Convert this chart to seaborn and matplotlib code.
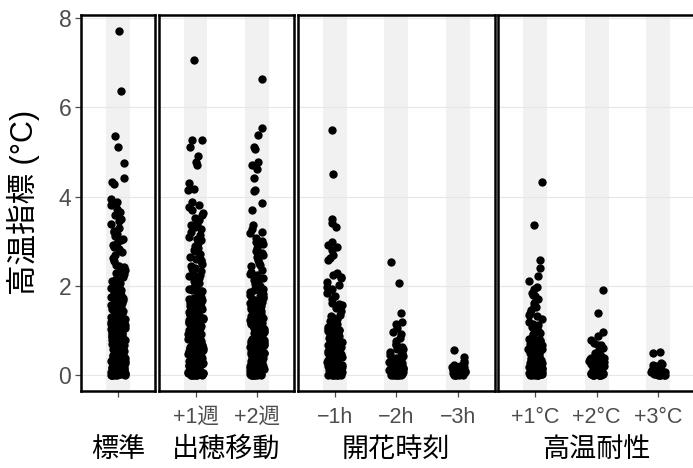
import numpy as np
import pandas as pd
import matplotlib
matplotlib.use("Agg")
import matplotlib.pyplot as plt
import seaborn as sns

# panel names and the levels shown under each panel
panels = ["標準", "出穂移動", "開花時刻", "高温耐性"]
panel_levels = [["標準"], ["+1週", "+2週"], ["−1h", "−2h", "−3h"], ["+1°C", "+2°C", "+3°C"]]
panel_ticklabels = [[""], ["+1週", "+2週"], ["−1h", "−2h", "−3h"], ["+1°C", "+2°C", "+3°C"]]

# values (高温指標, °C)
std_vals = [
    7.72, 6.37, 5.35, 5.12, 4.76, 4.41, 4.33, 4.28, 3.96, 3.89, 3.81, 3.72, 3.66, 3.58,
    3.51, 3.45, 3.38, 3.31, 3.24, 3.17, 3.11, 3.03, 2.97, 2.91, 2.84, 2.76, 2.69,
    2.55, 2.48, 2.42, 2.37, 2.31, 2.26, 2.21, 2.16, 2.12, 2.07, 2.03,
    1.97, 1.93, 1.90, 1.86, 1.84, 1.79, 1.77, 1.73, 1.70, 1.66, 1.64, 1.61, 1.57, 1.55,
    1.52, 1.49, 1.46, 1.43, 1.41, 1.38, 1.36, 1.33, 1.31, 1.28, 1.26, 1.23, 1.21, 1.19,
    1.16, 1.14, 1.12, 1.09, 1.07, 1.05, 1.02, 1.00, 0.98, 0.96, 0.93, 0.91, 0.89, 0.87,
    0.85, 0.82, 0.80, 0.78, 0.76, 0.74, 0.72, 0.70, 0.68, 0.66, 0.64, 0.62, 0.60, 0.58,
    0.56, 0.54, 0.52, 0.50, 0.48, 0.46, 0.44, 0.42, 0.40, 0.38, 0.36, 0.34, 0.32, 0.30,
    0.28, 0.26, 0.24, 0.22, 0.20, 0.18, 0.16, 0.14, 0.12, 0.10, 0.09, 0.08, 0.07, 0.06,
    0.05, 0.04, 0.03, 0.02, 0.01, 0.00, 0.00, 0.00, 0.01, 0.02, 0.03, 0.05, 0.07, 0.11,
    0.15, 0.19, 0.25, 0.31, 0.37, 0.43, 0.51, 0.59, 0.67, 0.77, 0.88, 0.99, 1.11, 1.24,
    1.37, 1.52, 1.68, 0.04, 0.13, 0.21, 0.33, 0.47, 0.63, 0.81,
    0.02, 0.06, 0.10, 0.15, 0.20, 0.26, 0.30, 0.35, 0.41, 0.45, 0.53, 0.57, 0.61, 0.69,
    0.73, 0.79, 0.84, 0.90, 0.95, 1.01, 1.06, 1.13, 1.18, 1.27, 1.34, 1.45, 1.58, 1.75,
    1.91, 0.00, 0.08, 0.17, 0.28, 0.39, 0.55, 0.71, 0.86, 1.04, 1.22, 1.44,
    0.01, 0.04, 0.12, 0.18, 0.23, 0.33, 0.38, 0.47, 0.51, 0.60, 0.65, 0.75, 0.83, 0.92,
    0.97, 1.03, 1.10, 1.15, 1.20, 1.30, 1.39, 1.48, 1.54, 1.63, 1.72, 1.81, 1.88, 1.95,
    2.10, 2.29, 2.45, 2.62, 2.88, 3.06, 3.20,
]
w1_vals = [
    7.07, 5.28, 5.26, 5.11, 4.92, 4.78, 4.72, 4.30, 4.18, 4.14, 3.89, 3.82, 3.78, 3.71,
    3.64, 3.58, 3.52, 3.47, 3.40, 3.33, 3.27, 3.21, 3.14, 3.09, 3.02, 2.96, 2.90, 2.85,
    2.78, 2.72, 2.66, 2.61, 2.55, 2.49, 2.44, 2.38, 2.33, 2.27, 2.22, 2.17, 2.11, 2.06, 2.02,
    1.98, 1.95, 1.91, 1.88, 1.83, 1.80, 1.76, 1.72, 1.69, 1.65, 1.62, 1.58, 1.56, 1.53,
    1.50, 1.47, 1.44, 1.42, 1.39, 1.35, 1.32, 1.30, 1.27, 1.24, 1.22, 1.20, 1.17, 1.15,
    1.13, 1.10, 1.08, 1.06, 1.03, 1.01, 0.99, 0.97, 0.94, 0.92, 0.90, 0.88, 0.86, 0.83,
    0.81, 0.79, 0.77, 0.75, 0.73, 0.71, 0.69, 0.67, 0.65, 0.63, 0.61, 0.59, 0.57, 0.55,
    0.53, 0.51, 0.49, 0.47, 0.45, 0.43, 0.41, 0.39, 0.37, 0.35, 0.33, 0.31, 0.29, 0.27,
    0.25, 0.23, 0.21, 0.19, 0.17, 0.15, 0.13, 0.11, 0.10, 0.08, 0.07, 0.05, 0.04, 0.03,
    0.02, 0.01, 0.00, 0.00, 0.00, 0.01, 0.02, 0.04, 0.06, 0.09, 0.14, 0.18, 0.24, 0.29,
    0.36, 0.42, 0.48, 0.56, 0.64, 0.72, 0.82, 0.93, 1.04, 1.16, 1.29, 1.43, 1.57, 1.74,
    1.89, 0.03, 0.12, 0.22, 0.34, 0.46, 0.58, 0.74,
    0.01, 0.05, 0.09, 0.16, 0.20, 0.27, 0.32, 0.38, 0.44, 0.50, 0.54, 0.62, 0.68, 0.76,
    0.80, 0.87, 0.95, 1.00, 1.07, 1.12, 1.19, 1.26, 1.34, 1.41, 1.49, 1.61, 1.70, 1.85,
    1.96, 0.00, 0.07, 0.15, 0.26, 0.40, 0.52, 0.66, 0.84, 1.02, 1.25, 1.46,
    0.02, 0.06, 0.11, 0.17, 0.22, 0.30, 0.35, 0.42, 0.48, 0.58, 0.63, 0.70, 0.78, 0.85,
    0.91, 0.98, 1.05, 1.11, 1.18, 1.23, 1.31, 1.38, 1.45, 1.52, 1.60, 1.67, 1.78, 1.93,
    2.08, 2.25, 2.41, 2.58, 2.81, 3.05, 3.36,
]
w2_vals = [
    6.64, 5.53, 5.38, 5.12, 5.06, 4.78, 4.70, 4.62, 4.41, 4.15, 4.12, 3.85, 3.70, 3.36,
    3.27, 3.18, 3.08, 3.01, 2.94, 2.86, 2.79, 2.73, 2.66, 2.58, 2.51, 2.45, 2.37, 2.31,
    2.24, 2.18, 2.11, 2.05, 1.99,
    1.94, 1.90, 1.87, 1.83, 1.80, 1.77, 1.73, 1.70, 1.67, 1.63, 1.60, 1.57, 1.54, 1.51,
    1.48, 1.45, 1.43, 1.40, 1.37, 1.34, 1.31, 1.29, 1.26, 1.23, 1.21, 1.18, 1.15, 1.13,
    1.11, 1.08, 1.06, 1.03, 1.01, 0.99, 0.96, 0.94, 0.92, 0.89, 0.87, 0.85, 0.83, 0.81,
    0.79, 0.76, 0.74, 0.72, 0.70, 0.68, 0.66, 0.64, 0.62, 0.60, 0.58, 0.56, 0.54, 0.52,
    0.50, 0.48, 0.46, 0.44, 0.42, 0.40, 0.38, 0.36, 0.34, 0.32, 0.30, 0.28, 0.26, 0.24,
    0.22, 0.20, 0.18, 0.16, 0.14, 0.12, 0.10, 0.09, 0.07, 0.06, 0.05, 0.04, 0.03, 0.02,
    0.01, 0.00, 0.00, 0.00, 0.01, 0.03, 0.05, 0.08, 0.12, 0.17, 0.23, 0.29, 0.35, 0.41,
    0.49, 0.57, 0.65, 0.75, 0.86, 0.97, 1.09, 1.22, 1.36, 1.50, 1.65, 0.02, 0.11, 0.21,
    0.33, 0.45, 0.61, 0.78,
    0.00, 0.04, 0.09, 0.14, 0.19, 0.25, 0.31, 0.37, 0.43, 0.47, 0.53, 0.59, 0.67, 0.71,
    0.77, 0.84, 0.91, 0.98, 1.04, 1.10, 1.17, 1.25, 1.32, 1.42, 1.55, 1.69, 1.84, 0.02,
    0.06, 0.13, 0.24, 0.36, 0.51, 0.69, 0.88, 1.07, 1.28,
    0.01, 0.03, 0.08, 0.15, 0.21, 0.27, 0.34, 0.39, 0.45, 0.55, 0.63, 0.73, 0.80, 0.90,
    0.95, 1.02, 1.14, 1.19, 1.27, 1.35, 1.44, 1.53, 1.62, 1.75, 1.92, 2.14, 2.28, 2.48,
    2.70, 2.98, 3.22,
]
h1_vals = [
    5.50, 4.52, 3.50, 3.42, 3.33, 2.99, 2.91, 2.87, 2.80, 2.69, 2.62, 2.58, 2.30, 2.25,
    2.18, 2.10, 2.03, 1.97, 1.90, 1.84, 1.77, 1.70, 1.63, 1.57, 1.50, 1.43, 1.36, 1.30,
    1.26, 1.22, 1.18, 1.15, 1.11, 1.08, 1.04, 1.01, 0.98, 0.95, 0.92, 0.89, 0.86, 0.83,
    0.80, 0.77, 0.74, 0.72, 0.69, 0.66, 0.63, 0.61, 0.58, 0.55, 0.53, 0.50, 0.48, 0.45,
    0.43, 0.40, 0.38, 0.35, 0.33, 0.31, 0.28, 0.26, 0.24, 0.22, 0.20, 0.18, 0.16, 0.14,
    0.12, 0.10, 0.08, 0.07, 0.05, 0.04, 0.03, 0.02, 0.01, 0.00, 0.00, 0.00, 0.01, 0.02,
    0.04, 0.06, 0.09, 0.13, 0.17, 0.21, 0.27, 0.34, 0.41, 0.49, 0.57, 0.67, 0.78, 0.90,
    1.02, 0.03, 0.11, 0.19, 0.30, 0.44, 0.60,
    0.00, 0.05, 0.10, 0.15, 0.23, 0.29, 0.36, 0.42, 0.51, 0.56, 0.64, 0.71, 0.79, 0.85,
    0.94, 1.00, 1.09, 1.20, 0.02, 0.08, 0.18, 0.32, 0.47, 0.62, 0.75,
    0.01, 0.06, 0.14, 0.25, 0.37, 0.52, 0.68, 0.88, 1.06, 1.33, 1.60, 1.93, 2.21,
]
h2_vals = [
    2.54, 2.06, 1.39, 1.20, 1.14, 1.05, 0.98, 0.92, 0.83, 0.77, 0.71, 0.64, 0.58, 0.52,
    0.46, 0.41, 0.38, 0.35, 0.32, 0.29, 0.27, 0.24, 0.22, 0.20, 0.18, 0.16, 0.14, 0.12,
    0.10, 0.08, 0.07, 0.05, 0.04, 0.03, 0.02, 0.01, 0.00, 0.00, 0.00, 0.01, 0.03, 0.05,
    0.09, 0.13, 0.19, 0.25, 0.31, 0.44, 0.60,
    0.00, 0.02, 0.06, 0.11, 0.15, 0.21, 0.28, 0.36, 0.49, 0.68, 0.01, 0.09, 0.17, 0.26,
]
h3_vals = [
    0.56, 0.40, 0.33, 0.27, 0.21, 0.18, 0.14, 0.11, 0.09, 0.07, 0.05, 0.04, 0.03, 0.02,
    0.01, 0.00, 0.00, 0.00, 0.02, 0.06, 0.12, 0.16, 0.24, 0.01, 0.08, 0.19,
]
c1_vals = [
    4.34, 3.37, 2.58, 2.40, 2.22, 2.12, 1.98, 1.93, 1.85, 1.78, 1.70, 1.63, 1.55, 1.47,
    1.40, 1.33, 1.26, 1.19, 1.12, 1.05, 0.98, 0.92, 0.86,
    0.83, 0.80, 0.77, 0.74, 0.71, 0.68, 0.65, 0.62, 0.60, 0.57, 0.54, 0.52, 0.49, 0.47,
    0.44, 0.42, 0.39, 0.37, 0.35, 0.32, 0.30, 0.28, 0.26, 0.24, 0.22, 0.20, 0.18, 0.16,
    0.14, 0.12, 0.10, 0.09, 0.07, 0.06, 0.05, 0.04, 0.03, 0.02, 0.01, 0.00, 0.00, 0.00,
    0.01, 0.02, 0.04, 0.07, 0.11, 0.15, 0.21, 0.27, 0.34, 0.41, 0.50, 0.59, 0.70,
    0.03, 0.13, 0.25, 0.38,
    0.00, 0.05, 0.09, 0.17, 0.23, 0.31, 0.36, 0.45, 0.55, 0.63, 0.72, 0.81, 1.09, 1.36,
    0.02, 0.08, 0.14, 0.20, 0.29, 0.40, 0.48, 0.58, 0.67, 0.78, 0.94, 1.16, 1.52, 1.81,
]
c2_vals = [
    1.91, 1.39, 0.97, 0.88, 0.80, 0.73, 0.67, 0.61, 0.55, 0.50, 0.46, 0.42, 0.39, 0.35,
    0.32, 0.29, 0.26, 0.23, 0.21, 0.18, 0.16, 0.14, 0.12, 0.10, 0.08, 0.06, 0.05, 0.04,
    0.03, 0.02, 0.01, 0.00, 0.00, 0.00, 0.01, 0.03, 0.06, 0.10, 0.15, 0.20, 0.27, 0.36,
    0.02, 0.09, 0.00, 0.04, 0.07, 0.12, 0.17, 0.24, 0.31, 0.44, 0.58,
    0.01, 0.05, 0.11, 0.19, 0.28, 0.38, 0.52, 0.69,
]
c3_vals = [
    0.52, 0.51, 0.28, 0.25, 0.20, 0.16, 0.13, 0.10, 0.08, 0.06, 0.04, 0.03, 0.02, 0.01,
    0.00, 0.00, 0.00, 0.01, 0.05, 0.09, 0.15, 0.22, 0.02, 0.07, 0.12,
]

values_by_level = {
    "標準": std_vals, "+1週": w1_vals, "+2週": w2_vals,
    "−1h": h1_vals, "−2h": h2_vals, "−3h": h3_vals,
    "+1°C": c1_vals, "+2°C": c2_vals, "+3°C": c3_vals,
}

rows = []
for panel, levels in zip(panels, panel_levels):
    for lev in levels:
        for v in values_by_level[lev]:
            rows.append({"panel": panel, "level": lev, "value": v})
df = pd.DataFrame(rows)

sns.set_theme(style="white")
plt.rcParams["font.family"] = ["Liberation Sans", "Noto Sans CJK JP", "DejaVu Sans"]
np.random.seed(3)

W, H = 693, 468
fig = plt.figure(figsize=(W / 100, H / 100), dpi=100)

# layout in pixels: one unit of category axis ~61.5 px, panels separated by a small gap
x0, unit, gap = 81.0, 61.5, 3.8
top_px, bottom_px = 15.0, 390.5
grey = "#4d4d4d"

for i, (panel, levels, ticklabels) in enumerate(zip(panels, panel_levels, panel_ticklabels)):
    n = len(levels)
    w = unit * (n + 0.2)
    ax = fig.add_axes([x0 / W, (H - bottom_px) / H, w / W, (bottom_px - top_px) / H])
    x0 += w + gap

    for j in range(n):
        ax.axvspan(j - 0.195, j + 0.195, color="#f1f1f1", lw=0, zorder=0)

    sub = df[df["panel"] == panel]
    sns.stripplot(data=sub, x="level", y="value", order=levels, color="black",
                  size=6.0, jitter=0.12, linewidth=0, ax=ax, zorder=3)

    ax.set_xlim(-0.6, n - 0.4)
    ax.set_ylim(-0.34, 8.07)
    ax.set_yticks([0, 2, 4, 6, 8])
    ax.set_axisbelow(True)
    ax.yaxis.grid(True, color="#e6e6e6", linewidth=0.8)
    ax.xaxis.grid(False)
    ax.set_facecolor("white")
    for s in ax.spines.values():
        s.set_color("black")
        s.set_linewidth(1.8)
        s.set_visible(True)

    ax.set_xticks(range(n))
    ax.set_xticklabels(ticklabels)
    ax.tick_params(axis="x", bottom=True, length=4, width=0.9, color=grey,
                   labelsize=15.5, labelcolor=grey, pad=8)
    ax.set_xlabel(panel, fontsize=19.5, color="black")
    ax.xaxis.label.set_va("center")
    ax.xaxis.set_label_coords(0.5, (bottom_px - 450) / (bottom_px - top_px))

    if i == 0:
        ax.tick_params(axis="y", left=True, length=4, width=0.9, color=grey,
                       labelsize=16.5, labelcolor=grey, pad=3)
        ax.set_ylabel("高温指標 (°C)", fontsize=22, color="black")
        ax.yaxis.label.set_va("center")
        ax.yaxis.set_label_coords((23 - 81) / (unit * 1.2), 0.5)
    else:
        ax.tick_params(axis="y", left=False, labelleft=False)
        ax.set_ylabel("")

fig.savefig("out.png", dpi=100)
